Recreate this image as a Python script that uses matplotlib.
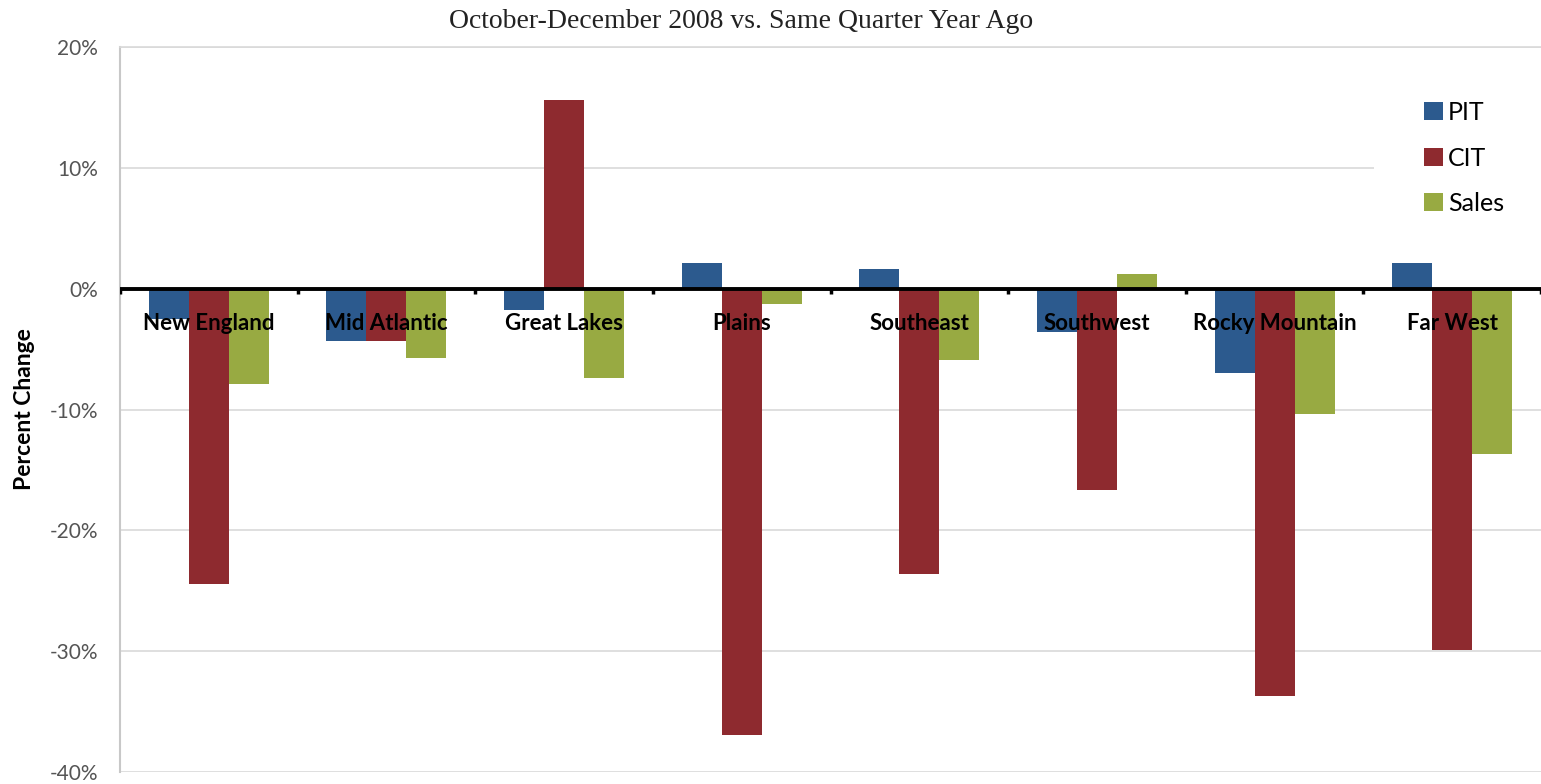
import numpy as np
import matplotlib
matplotlib.use("Agg")
import matplotlib.pyplot as plt
from matplotlib.ticker import FuncFormatter

regions = ["New England", "Mid Atlantic", "Great Lakes", "Plains", "Southeast",
           "Southwest", "Rocky Mountain", "Far West"]
pit = [-2.5, -4.3, -1.8, 2.1, 1.6, -3.6, -7.0, 2.1]
cit = [-24.4, -4.3, 15.6, -36.9, -23.6, -16.7, -33.7, -29.9]
sales = [-7.9, -5.7, -7.4, -1.3, -5.9, 1.2, -10.4, -13.7]
series = [("PIT", pit, "#2c5a8e"), ("CIT", cit, "#8e2a2f"), ("Sales", sales, "#98aa42")]
yticks = [20, 10, 0, -10, -20, -30, -40]

plt.rcParams["font.family"] = ["Lato", "DejaVu Sans"]

fig = plt.figure(figsize=(15.41, 7.84), dpi=100)
ax = fig.add_axes([120 / 1541, 12 / 784, 1421 / 1541, 725 / 784])

x = np.arange(len(regions))
w = 0.225
for k, (name, vals, col) in enumerate(series):
    ax.bar(x + (k - 1) * w, vals, w, color=col, label=name, zorder=2)

ax.set_xlim(-0.5, len(regions) - 0.5)
ax.set_ylim(-40, 20)
ax.set_yticks(yticks)
ax.yaxis.set_major_formatter(FuncFormatter(lambda v, p: "%d%%" % v))
ax.tick_params(axis="y", length=0, labelsize=15, labelcolor="#555555", pad=16)
ax.set_xticks([])
ax.grid(axis="y", color="#d9d9d9", lw=1.2, zorder=0.5)
ax.set_axisbelow(True)
for s in ["right", "bottom"]:
    ax.spines[s].set_visible(False)
ax.spines["top"].set_color("#d9d9d9")
ax.spines["top"].set_linewidth(1.2)
ax.spines["left"].set_color("#c8c8c8")
ax.spines["left"].set_linewidth(1.5)

# zero line with small tick marks at group boundaries
ax.axhline(0, color="black", lw=2.8, zorder=4)
bounds = np.arange(len(regions) + 1) - 0.5
ax.vlines(bounds, -0.45, 0, color="black", lw=2.5, zorder=4)

for i, r in enumerate(regions):
    ax.text(i, -2.0, r, ha="center", va="top", fontsize=16, fontweight="bold",
            color="black", zorder=5)

ax.set_ylabel("Percent Change", fontsize=16.5, fontweight="bold", labelpad=10)

leg = ax.legend(loc="upper left", bbox_to_anchor=(1374 / 1541, (784 - 51) / 784),
                bbox_transform=fig.transFigure, borderaxespad=0, fontsize=18,
                frameon=True, facecolor="white", edgecolor="none", framealpha=1,
                fancybox=False, borderpad=2.0, handlelength=0.75, handleheight=0.75,
                handletextpad=0.2, labelspacing=0.9)
leg.set_zorder(1)

fig.text(741 / 1541, 1 - 22 / 784, "October-December 2008 vs. Same Quarter Year Ago",
         ha="center", va="center", fontsize=20, family="Liberation Serif", color="#222222")

fig.savefig("out.png", dpi=100, facecolor="white")
